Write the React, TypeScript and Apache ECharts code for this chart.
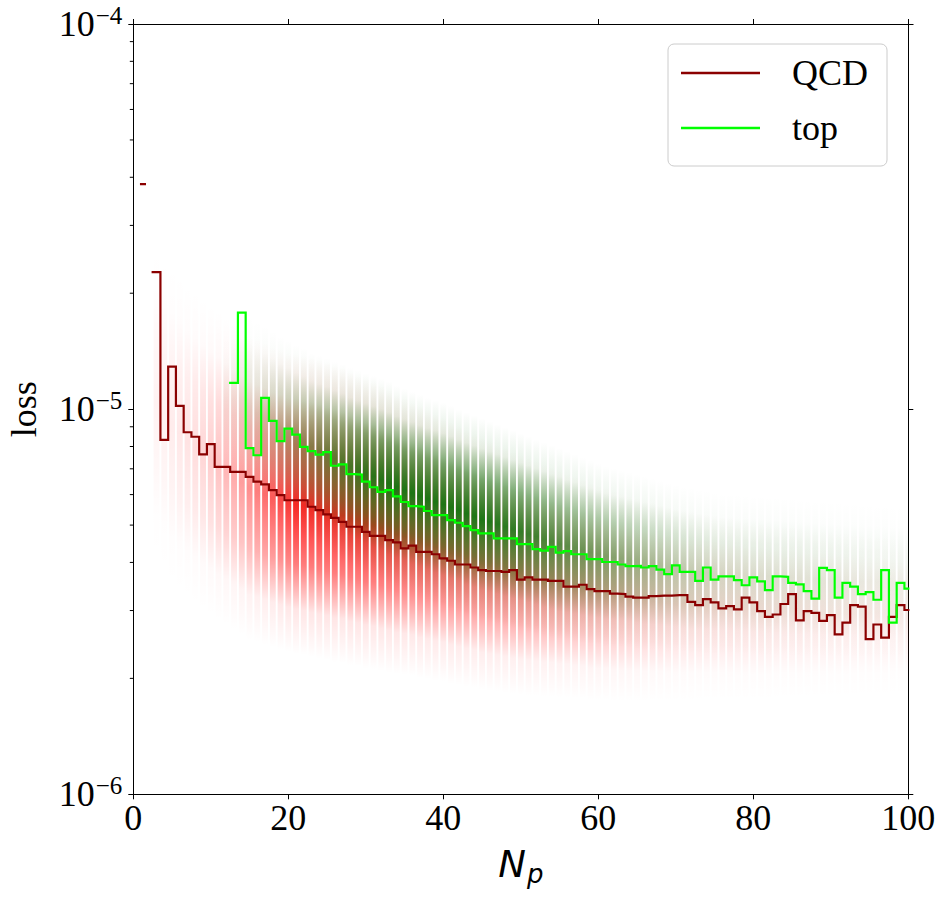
import React, { useEffect, useRef } from "react";
import * as echarts from "echarts";

// Np bins (integer number of particles), 1..100
const npBins: number[] = Array.from({ length: 100 }, (_, i) => i + 1);

// Mean loss per Np bin, in units of 1e-6 (null = empty bin)
const qcdMeanE6: (number | null)[] = [
  38.4, null, 22.7, 8.32, 12.9, 10.2, 8.71, 8.48, 7.63, 8.11,
  7.08, 7.08, 6.87, 6.87, 6.67, 6.48, 6.38, 6.16, 5.98, 5.8,
  5.8, 5.8, 5.58, 5.47, 5.33, 5.22, 5.1, 4.95, 4.95, 4.8,
  4.69, 4.69, 4.57, 4.51, 4.35, 4.42, 4.26, 4.26, 4.2, 4.1,
  4.04, 3.95, 3.95, 3.88, 3.82, 3.8, 3.8, 3.78, 3.82, 3.61,
  3.66, 3.61, 3.61, 3.58, 3.58, 3.46, 3.46, 3.5, 3.41, 3.37,
  3.37, 3.32, 3.31, 3.26, 3.24, 3.24, 3.27, 3.28, 3.28, 3.29,
  3.29, 3.16, 3.1, 3.21, 3.15, 3.04, 3.08, 3.02, 3.24, 3.15,
  2.99, 2.89, 2.93, 3.12, 3.31, 2.83, 2.99, 2.96, 2.82, 2.92,
  2.6, 2.79, 3.1, 3.07, 2.53, 2.76, 2.55, 2.89, 3.1, 3.01,
];

const topMeanE6: (number | null)[] = [
  null, null, null, null, null, null, null, null, null, null,
  null, null, 11.7, 17.8, 7.92, 7.59, 10.7, 9.32, 8.26, 8.9,
  8.59, 7.98, 7.78, 7.62, 7.73, 7.13, 7.19, 6.78, 6.76, 6.48,
  6.27, 6.1, 6.16, 5.94, 5.74, 5.6, 5.58, 5.44, 5.31, 5.31,
  5.15, 5.07, 4.97, 4.85, 4.76, 4.76, 4.62, 4.62, 4.62, 4.46,
  4.46, 4.33, 4.29, 4.39, 4.24, 4.28, 4.2, 4.2, 4.08, 4.08,
  4.01, 4.01, 3.95, 3.91, 3.92, 3.88, 3.91, 3.83, 3.73, 3.93,
  3.78, 3.78, 3.58, 3.88, 3.61, 3.68, 3.68, 3.6, 3.49, 3.66,
  3.57, 3.39, 3.68, 3.67, 3.54, 3.51, 3.37, 3.22, 3.87, 3.82,
  3.24, 3.54, 3.46, 3.31, 3.35, 3.2, 3.82, 2.79, 3.54, 3.42,
];

// Per-jet loss cloud (scatter of all jets), per Np bin: upper / lower extent (1e-6) and density
const qcdCloudTopE6: (number | null)[] = [
  null, null, 26.7, 25.1, 23.7, 22.5, 21.2, 20.3, 19.4, 18.6,
  18.0, 17.3, 16.7, 16.1, 15.5, 15.2, 14.9, 14.5, 14.3, 14.0,
  13.9, 13.7, 13.6, 13.4, 13.2, 13.0, 12.8, 12.5, 12.2, 12.0,
  11.8, 11.5, 11.2, 10.9, 10.7, 10.4, 10.2, 9.94, 9.71, 9.47,
  9.25, 9.03, 8.82, 8.61, 8.41, 8.26, 8.07, 7.93, 7.74, 7.6,
  7.46, 7.33, 7.2, 7.07, 6.94, 6.82, 6.7, 6.58, 6.46, 6.35,
  6.27, 6.16, 6.09, 5.98, 5.91, 5.83, 5.77, 5.7, 5.63, 5.56,
  5.53, 5.5, 5.44, 5.4, 5.37, 5.31, 5.28, 5.25, 5.18, 5.15,
  5.12, 5.09, 5.06, 5.03, 5.03, 5.0, 4.97, 4.94, 4.94, 4.91,
  4.88, 4.88, 4.85, 4.82, 4.79, 4.79, 4.77, 4.74, 4.74, 4.71,
];
const qcdCloudBottomE6: (number | null)[] = [
  null, null, 4.05, 3.75, 3.49, 3.35, 3.23, 3.11, 3.01, 2.92,
  2.83, 2.75, 2.67, 2.59, 2.51, 2.48, 2.44, 2.41, 2.37, 2.34,
  2.31, 2.3, 2.27, 2.25, 2.23, 2.2, 2.19, 2.16, 2.15, 2.12,
  2.11, 2.09, 2.07, 2.05, 2.04, 2.03, 2.0, 1.99, 1.97, 1.96,
  1.93, 1.92, 1.9, 1.89, 1.86, 1.85, 1.84, 1.83, 1.82, 1.81,
  1.8, 1.8, 1.79, 1.79, 1.78, 1.78, 1.77, 1.77, 1.75, 1.75,
  1.75, 1.74, 1.74, 1.74, 1.74, 1.74, 1.74, 1.74, 1.74, 1.74,
  1.74, 1.74, 1.75, 1.75, 1.75, 1.75, 1.75, 1.75, 1.75, 1.75,
  1.75, 1.75, 1.76, 1.76, 1.76, 1.76, 1.76, 1.77, 1.77, 1.77,
  1.77, 1.77, 1.78, 1.78, 1.78, 1.78, 1.78, 1.79, 1.79, 1.79,
];
const qcdCloudDensity: (number | null)[] = [
  null, null, 0.06, 0.07, 0.09, 0.11, 0.13, 0.16, 0.19, 0.23,
  0.28, 0.33, 0.39, 0.45, 0.52, 0.6, 0.68, 0.76, 0.84, 0.92,
  1, 1, 1, 1, 1, 1, 1, 1, 1, 1,
  0.98, 0.96, 0.94, 0.92, 0.9, 0.88, 0.86, 0.84, 0.82, 0.8,
  0.78, 0.76, 0.74, 0.72, 0.7, 0.68, 0.66, 0.64, 0.62, 0.6,
  0.58, 0.56, 0.54, 0.52, 0.5, 0.48, 0.46, 0.44, 0.42, 0.4,
  0.38, 0.36, 0.34, 0.32, 0.3, 0.28, 0.26, 0.24, 0.22, 0.2,
  0.19, 0.18, 0.18, 0.17, 0.17, 0.16, 0.16, 0.15, 0.15, 0.14,
  0.14, 0.13, 0.13, 0.12, 0.12, 0.12, 0.11, 0.11, 0.11, 0.1,
  0.1, 0.1, 0.1, 0.09, 0.09, 0.09, 0.09, 0.08, 0.08, 0.08,
];

const topCloudTopE6: (number | null)[] = [
  null, null, null, null, null, null, null, null, null, null,
  null, 16.0, 17.2, 17.9, 17.6, 17.0, 16.5, 16.0, 15.5, 15.1,
  14.7, 14.4, 14.0, 13.8, 13.6, 13.3, 13.1, 12.8, 12.6, 12.4,
  12.2, 12.0, 11.8, 11.5, 11.3, 11.1, 10.9, 10.7, 10.55, 10.4,
  10.2, 10.0, 9.82, 9.65, 9.47, 9.3, 9.14, 8.98, 8.82, 8.66,
  8.51, 8.36, 8.21, 8.07, 7.93, 7.78, 7.65, 7.5, 7.37, 7.24,
  7.11, 7.02, 6.94, 6.86, 6.78, 6.7, 6.62, 6.54, 6.46, 6.39,
  6.31, 6.27, 6.2, 6.16, 6.09, 6.05, 6.05, 6.02, 6.02, 5.98,
  5.98, 5.94, 5.94, 5.91, 5.91, 5.87, 5.87, 5.83, 5.83, 5.8,
  5.8, 5.77, 5.77, 5.73, 5.73, 5.7, 5.7, 5.66, 5.66, 5.63,
];
const topCloudBottomE6: (number | null)[] = [
  null, null, null, null, null, null, null, null, null, null,
  null, 6.94, 6.54, 6.16, 5.8, 5.63, 5.47, 5.31, 5.15, 5.0,
  4.85, 4.71, 4.57, 4.43, 4.3, 4.17, 4.05, 3.93, 3.84, 3.75,
  3.66, 3.58, 3.49, 3.43, 3.37, 3.31, 3.25, 3.19, 3.13, 3.08,
  3.03, 2.98, 2.92, 2.88, 2.83, 2.8, 2.77, 2.73, 2.7, 2.67,
  2.64, 2.61, 2.57, 2.54, 2.51, 2.5, 2.48, 2.47, 2.45, 2.44,
  2.42, 2.41, 2.41, 2.4, 2.38, 2.37, 2.37, 2.36, 2.34, 2.34,
  2.33, 2.31, 2.31, 2.3, 2.3, 2.3, 2.3, 2.29, 2.29, 2.28,
  2.28, 2.27, 2.27, 2.27, 2.26, 2.26, 2.26, 2.25, 2.25, 2.25,
  2.24, 2.24, 2.24, 2.23, 2.23, 2.23, 2.23, 2.23, 2.23, 2.23,
];
const topCloudDensity: (number | null)[] = [
  null, null, null, null, null, null, null, null, null, null,
  null, 0.04, 0.06, 0.09, 0.12, 0.15, 0.19, 0.24, 0.29, 0.35,
  0.41, 0.47, 0.53, 0.59, 0.65, 0.71, 0.77, 0.82, 0.87, 0.91,
  0.94, 0.97, 0.99, 1, 1, 1, 1, 1, 1, 1,
  1, 1, 1, 1, 1, 0.98, 0.96, 0.94, 0.92, 0.9,
  0.87, 0.84, 0.81, 0.78, 0.75, 0.72, 0.69, 0.66, 0.63, 0.6,
  0.57, 0.54, 0.51, 0.48, 0.45, 0.42, 0.39, 0.36, 0.33, 0.3,
  0.28, 0.26, 0.24, 0.22, 0.2, 0.19, 0.18, 0.18, 0.17, 0.17,
  0.16, 0.16, 0.15, 0.15, 0.14, 0.14, 0.13, 0.13, 0.12, 0.12,
  0.11, 0.11, 0.1, 0.1, 0.09, 0.09, 0.08, 0.08, 0.08, 0.07,
];

// Axis ticks
const xTickInterval = 20;
const yMin = 1e-6;
const yMax = 1e-4;
const yMinorTicks: number[] = [
  2e-6, 3e-6, 4e-6, 5e-6, 6e-6, 7e-6, 8e-6, 9e-6,
  2e-5, 3e-5, 4e-5, 5e-5, 6e-5, 7e-5, 8e-5, 9e-5,
];
const LOSS_UNIT = 1e-6;

const SERIF = "'Liberation Serif', 'Times New Roman', serif";
const SANS = "'DejaVu Sans', sans-serif";

// matplotlib-like step (where='mid') vertices; nulls break the line
function stepMid(xs: number[], ys: (number | null)[]) {
  const v: any[] = [];
  const val = (y: number | null) => (y === null ? "-" : y * LOSS_UNIT);
  for (let i = 0; i < xs.length; i++) {
    if (i === 0) {
      v.push([xs[0], val(ys[0])]);
    } else {
      const m = (xs[i - 1] + xs[i]) / 2;
      v.push([m, val(ys[i - 1])]);
      v.push([m, val(ys[i])]);
    }
  }
  v.push([xs[xs.length - 1], val(ys[ys.length - 1])]);
  return v;
}

function cloudData(top: (number | null)[], bottom: (number | null)[], dens: (number | null)[]) {
  const out: number[][] = [];
  npBins.forEach((n, i) => {
    const t = top[i], b = bottom[i], d = dens[i];
    if (t !== null && b !== null && d !== null) out.push([n, t * LOSS_UNIT, b * LOSS_UNIT, d]);
  });
  return out;
}

function makeCloudRender(rgb: [number, number, number], maxAlpha: number) {
  return (params: any, api: any) => {
    const n = api.value(0);
    const hi = api.value(1);
    const lo = api.value(2);
    const d = api.value(3);
    const pl = api.coord([n - 0.38, hi]);
    const pr = api.coord([n + 0.38, hi]);
    const pb = api.coord([n, lo]);
    const a = Math.min(1, d * maxAlpha);
    const c = (k: number) => `rgba(${rgb[0]},${rgb[1]},${rgb[2]},${(a * k).toFixed(3)})`;
    return {
      type: "rect",
      shape: { x: pl[0], y: pl[1], width: pr[0] - pl[0], height: pb[1] - pl[1] },
      style: {
        fill: new echarts.graphic.LinearGradient(0, 0, 0, 1, [
          { offset: 0, color: c(0) },
          { offset: 0.15, color: c(0.12) },
          { offset: 0.3, color: c(0.6) },
          { offset: 0.5, color: c(1) },
          { offset: 0.7, color: c(0.6) },
          { offset: 0.85, color: c(0.12) },
          { offset: 1, color: c(0) },
        ]),
      },
    };
  };
}

// minor log ticks: short filled rects left of the y axis, placed via the axis scale
function minorTickRender(params: any, api: any) {
  const p = api.coord([api.value(0), api.value(1)]);
  return {
    type: "rect",
    shape: { x: p[0] - 3.5, y: p[1] - 0.5, width: 3.5, height: 1 },
    style: { fill: "#000000" },
  };
}

export default function App() {
  const ref = useRef<HTMLDivElement>(null);

  useEffect(() => {
    document.body.style.margin = "0";
    if (!ref.current) return;
    const chart = echarts.init(ref.current, null, { renderer: "svg" });

    const axisLineStyle = { color: "#000", width: 1 };
    const tick = { show: true, inside: false, length: 5, lineStyle: { color: "#000", width: 1 } };

    const option: any = {
      animation: false,
      backgroundColor: "#ffffff",
      textStyle: { fontFamily: SERIF },
      grid: {
        left: 133.3,
        right: 38.7,
        top: 24,
        bottom: 105.7,
        containLabel: false,
        outerBoundsMode: "none",
      },
      legend: {
        data: [
          { name: "QCD", icon: "rect" },
          { name: "top", icon: "rect" },
        ],
        orient: "vertical",
        left: 668,
        top: 44,
        itemWidth: 79,
        itemHeight: 2.4,
        itemGap: 19,
        selectedMode: false,
        backgroundColor: "rgba(255,255,255,0.8)",
        borderColor: "#cccccc",
        borderWidth: 1,
        borderRadius: 6,
        padding: [11, 19, 20, 13],
        textStyle: {
          fontFamily: SERIF,
          fontSize: 36,
          lineHeight: 36,
          color: "#000",
          padding: [0, 0, 0, 27],
        },
      },
      xAxis: [
        {
          type: "value",
          min: 0,
          max: 100,
          interval: xTickInterval,
          position: "bottom",
          name: "{n|N}{p|p}",
          nameLocation: "middle",
          nameGap: 49,
          nameTextStyle: {
            rich: {
              n: { fontFamily: SANS, fontStyle: "italic", fontSize: 37, lineHeight: 40, color: "#000" },
              p: {
                fontFamily: SANS,
                fontStyle: "italic",
                fontSize: 26,
                lineHeight: 20,
                padding: [20, 0, 0, 1],
                color: "#000",
              },
            },
          },
          axisLine: { show: true, onZero: false, lineStyle: axisLineStyle },
          axisTick: tick,
          axisLabel: { fontFamily: SERIF, fontSize: 36, color: "#000", margin: 6 },
          splitLine: { show: false },
        },
        {
          type: "value",
          min: 0,
          max: 100,
          interval: xTickInterval,
          position: "top",
          axisLine: { show: true, onZero: false, lineStyle: axisLineStyle },
          axisTick: tick,
          axisLabel: { show: false },
          splitLine: { show: false },
        },
      ],
      yAxis: [
        {
          type: "log",
          logBase: 10,
          min: yMin,
          max: yMax,
          position: "left",
          name: "loss",
          nameLocation: "middle",
          nameGap: 91,
          nameRotate: 90,
          nameTextStyle: { fontFamily: SERIF, fontSize: 36, lineHeight: 36, color: "#000" },
          axisLine: { show: true, onZero: false, lineStyle: axisLineStyle },
          axisTick: tick,
          axisLabel: {
            margin: 11,
            formatter: (v: number) => {
              const e = Math.round(Math.log10(v));
              return `{b|10}{s|${e < 0 ? "\u2212" : ""}${Math.abs(e)}}`;
            },
            rich: {
              b: { fontFamily: SERIF, fontSize: 36, lineHeight: 36, color: "#000" },
              s: { fontFamily: SERIF, fontSize: 25, lineHeight: 18, padding: [0, 0, 18, 1], color: "#000" },
            },
          },
          splitLine: { show: false },
        },
        {
          type: "log",
          logBase: 10,
          min: yMin,
          max: yMax,
          position: "right",
          axisLine: { show: true, onZero: false, lineStyle: axisLineStyle },
          axisTick: tick,
          axisLabel: { show: false },
          splitLine: { show: false },
        },
      ],
      series: [
        {
          type: "custom",
          name: "QCD jets",
          xAxisIndex: 0,
          yAxisIndex: 0,
          clip: true,
          silent: true,
          z: 1,
          encode: { x: 0, y: [1, 2] },
          data: cloudData(qcdCloudTopE6, qcdCloudBottomE6, qcdCloudDensity),
          renderItem: makeCloudRender([255, 0, 0], 0.85),
        },
        {
          type: "custom",
          name: "top jets",
          xAxisIndex: 0,
          yAxisIndex: 0,
          clip: true,
          silent: true,
          z: 2,
          encode: { x: 0, y: [1, 2] },
          data: cloudData(topCloudTopE6, topCloudBottomE6, topCloudDensity),
          renderItem: makeCloudRender([10, 115, 10], 0.92),
        },
        {
          type: "line",
          name: "QCD",
          xAxisIndex: 0,
          yAxisIndex: 0,
          data: stepMid(npBins, qcdMeanE6),
          showSymbol: false,
          symbol: "none",
          connectNulls: false,
          color: "#8b0000",
          itemStyle: { color: "#8b0000" },
          lineStyle: { color: "#8b0000", width: 2.2, cap: "square", join: "miter" },
          z: 3,
        },
        {
          type: "line",
          name: "top",
          xAxisIndex: 0,
          yAxisIndex: 0,
          data: stepMid(npBins, topMeanE6),
          showSymbol: false,
          symbol: "none",
          connectNulls: false,
          color: "#00ff00",
          itemStyle: { color: "#00ff00" },
          lineStyle: { color: "#00ff00", width: 2.2, cap: "square", join: "miter" },
          z: 4,
        },
        {
          type: "custom",
          name: "minor ticks",
          xAxisIndex: 0,
          yAxisIndex: 0,
          clip: false,
          silent: true,
          z: 20,
          encode: { x: 0, y: 1 },
          data: yMinorTicks.map((v) => [0, v]),
          renderItem: minorTickRender,
        },
      ],
    };

    chart.setOption(option);
    return () => chart.dispose();
  }, []);

  return (
    <div
      ref={ref}
      style={{ position: "fixed", left: 0, top: 0, width: 947, height: 900, background: "#fff" }}
    />
  );
}
